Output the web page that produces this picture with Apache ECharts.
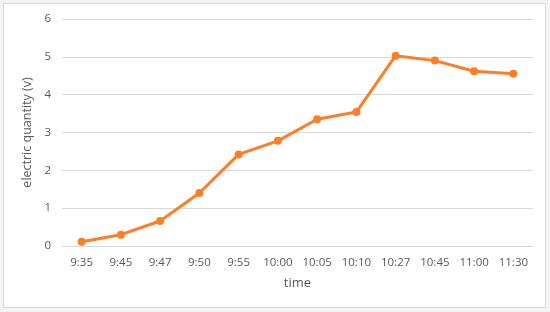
<!DOCTYPE html>
<html lang="en">
<head>
    <meta charset="UTF-8">
    <title>electric quantity</title>
    <style>
        html, body {
            margin: 0;
            padding: 0;
            background: #f4f4f4;
        }
        #box {
            position: absolute;
            left: 3px;
            top: 3px;
            width: 541px;
            height: 303px;
            border: 1px solid #d9d9d9;
            background: #fff;
        }
        #main {
            width: 541px;
            height: 303px;
        }
    </style>
</head>
<body>
    <div id="box"><div id="main"></div></div>

    <script src="https://cdn.jsdelivr.net/npm/echarts@6/dist/echarts.min.js"></script>
    <script>
        // data
        var times = ['9:35', '9:45', '9:47', '9:50', '9:55', '10:00', '10:05', '10:10', '10:27', '10:45', '11:00', '11:30'];
        var quantity = [0.11, 0.3, 0.66, 1.4, 2.42, 2.78, 3.35, 3.54, 5.03, 4.9, 4.62, 4.55];
        var yTicks = [0, 1, 2, 3, 4, 5, 6];

        var textColor = '#595959';
        var font = 'Open Sans';

        var myChart = echarts.init(document.getElementById('main'));

        var option = {
            animation: false,
            grid: {
                left: 58,
                right: 12,
                top: 15,
                bottom: 61
            },
            xAxis: {
                type: 'category',
                data: times,
                name: 'time',
                nameLocation: 'middle',
                nameGap: 31,
                nameTextStyle: { color: textColor, fontFamily: font, fontSize: 13 },
                axisLine: { lineStyle: { color: '#d9d9d9' } },
                axisTick: { show: false },
                axisLabel: { color: textColor, fontFamily: font, fontSize: 11.5, margin: 11, interval: 0 }
            },
            yAxis: {
                type: 'value',
                min: yTicks[0],
                max: yTicks[yTicks.length - 1],
                interval: 1,
                name: 'electric quantity (v)',
                nameLocation: 'middle',
                nameGap: 22,
                nameTextStyle: { color: textColor, fontFamily: font, fontSize: 12.5 },
                axisLine: { show: false },
                axisTick: { show: false },
                axisLabel: { color: textColor, fontFamily: font, fontSize: 11.5, margin: 11 },
                splitLine: { lineStyle: { color: '#d9d9d9' } }
            },
            series: [{
                type: 'line',
                data: quantity,
                symbol: 'circle',
                symbolSize: 8,
                lineStyle: { color: '#FC7E26', width: 3 },
                itemStyle: { color: '#FC7E26' }
            }]
        };
        myChart.setOption(option);
    </script>
</body>
</html>
